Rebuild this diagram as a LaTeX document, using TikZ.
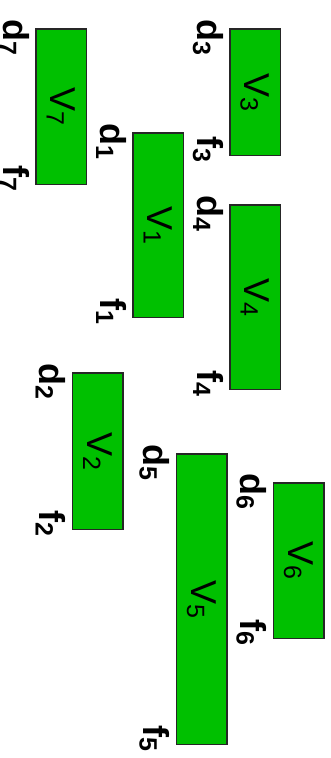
\documentclass[tikz,border=0pt]{standalone}
\usepackage{fontspec}
\setmainfont{Liberation Sans}
\usetikzlibrary{calc}
\definecolor{bargreen}{RGB}{0,192,0}
\newcommand{\lowsub}[1]{\raisebox{-4pt}{\fontsize{25}{25}\selectfont #1}}
\tikzset{
  bar/.style={draw=black!85, line width=1.5pt, fill=bargreen, rotate=-90,
    minimum height=50.5pt, inner sep=0pt, font=\fontsize{36}{40}\selectfont},
  dlab/.style={rotate=-90, anchor=base west, inner sep=0pt, font=\fontsize{36}{40}\selectfont\bfseries},
  flab/.style={rotate=-90, anchor=base east, inner sep=0pt, font=\fontsize{36}{40}\selectfont\bfseries},
}
\begin{document}
\begin{tikzpicture}[x=1pt,y=-1pt]
\useasboundingbox (0,0) rectangle (331,758);
\node[bar, minimum width=155.5pt] (v7) at (61,106.5) {V\lowsub{7}};
\node[bar, minimum width=126.5pt] (v3) at (255,92) {V\lowsub{3}};
\node[bar, minimum width=184.5pt] (v1) at (158,225) {V\lowsub{1}};
\node[bar, minimum width=184.5pt] (v4) at (255,297) {V\lowsub{4}};
\node[bar, minimum width=156.5pt] (v2) at (97.5,451) {V\lowsub{2}};
\node[bar, minimum width=290.5pt] (v5) at (201.5,599) {V\lowsub{5}};
\node[bar, minimum width=155.5pt] (v6) at (298.5,560.5) {V\lowsub{6}};
\foreach \i in {1,...,7}{
  \node[dlab] (d\i) at ($(v\i.south west)+(-32pt,9pt)$) {d\lowsub{\i}};
  \node[flab] (f\i) at ($(v\i.south east)+(-32pt,-7pt)$) {f\lowsub{\i}};
}
\end{tikzpicture}
\end{document}
